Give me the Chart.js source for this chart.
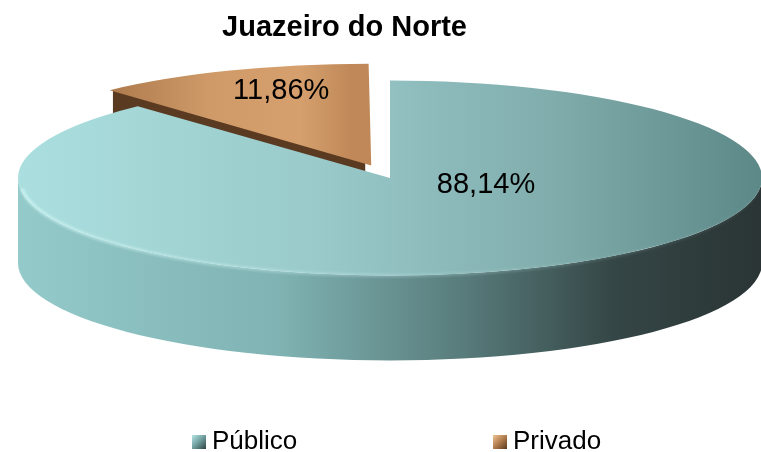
<!DOCTYPE html>
<html lang="pt-BR">
<head>
<meta charset="UTF-8">
<title>Juazeiro do Norte</title>
<script src="https://cdn.jsdelivr.net/npm/chart.js@4"></script>
<style>
  html, body { margin: 0; padding: 0; background: #fff; }
</style>
</head>
<body>
<canvas id="pieChart" width="761" height="452"></canvas>
<script>
var categorias = ['Público', 'Privado'];
var percentuais = [88.14, 11.86];
var rotulos = ['88,14%', '11,86%'];

// 3D look: where the tilted pie sits, how flat it is and how thick
var CX = 390, CY = 178, TILT = 0.262, DEPTH = 85, RAIO = 372;
var FONTE = '"Liberation Sans", Arial, sans-serif';

function grad(ctx, x0, y0, x1, y1, stops) {
  var g = ctx.createLinearGradient(x0, y0, x1, y1);
  stops.forEach(function (s) { g.addColorStop(s[0], s[1]); });
  return g;
}

// geometry of one arc element, after its offset is applied
function arcGeom(arc) {
  var p = arc.getProps(['x', 'y', 'startAngle', 'endAngle', 'outerRadius', 'circumference']);
  var off = (arc.options.offset || 0) / 4;
  var fix = 1 - Math.sin(Math.min(Math.PI, p.circumference || 0));
  var h = (p.startAngle + p.endAngle) / 2;
  var d = off + off * fix;
  var cx = p.x + Math.cos(h) * d, cy = p.y + Math.sin(h) * d;
  return {
    sx: CX + cx - p.x, sy: CY + (cy - p.y) * TILT,
    r: p.outerRadius, a0: p.startAngle, a1: p.endAngle, ox: p.x, oy: p.y
  };
}

var wallColors = [
  [[0, '#94caca'], [0.35, '#80b3b3'], [0.6, '#587b7b'], [0.8, '#354646'], [1, '#2a3434']],
  [[0, '#6e4827'], [1, '#4a301c']]
];
var cutColors = ['#4f6d6d', '#5a3a20'];

var pie3d = {
  id: 'pie3d',
  beforeDatasetsDraw: function (chart) {
    var ctx = chart.ctx;
    var arcs = chart.getDatasetMeta(0).data;
    // cut faces first: they sit behind the rims
    arcs.forEach(function (arc, i) {
      var g = arcGeom(arc);
      [[g.a0, Math.cos(g.a0) < -0.01], [g.a1, Math.cos(g.a1) > 0.01]].forEach(function (f) {
        if (!f[1]) return;
        var rx = g.sx + Math.cos(f[0]) * g.r, ry = g.sy + Math.sin(f[0]) * g.r * TILT;
        ctx.save();
        ctx.beginPath();
        ctx.moveTo(g.sx, g.sy);
        ctx.lineTo(rx, ry);
        ctx.lineTo(rx, ry + DEPTH);
        ctx.lineTo(g.sx, g.sy + DEPTH);
        ctx.closePath();
        ctx.fillStyle = cutColors[i];
        ctx.fill();
        ctx.restore();
      });
    });
    // outer rim of the front half
    arcs.forEach(function (arc, i) {
      var g = arcGeom(arc);
      for (var k = -1; k <= 1; k++) {
        var a = Math.max(g.a0, k * 2 * Math.PI), b = Math.min(g.a1, k * 2 * Math.PI + Math.PI);
        if (b <= a) continue;
        ctx.save();
        ctx.beginPath();
        ctx.ellipse(g.sx, g.sy, g.r, g.r * TILT, 0, a, b, false);
        ctx.ellipse(g.sx, g.sy + DEPTH, g.r, g.r * TILT, 0, b, a, true);
        ctx.closePath();
        ctx.fillStyle = grad(ctx, g.sx - g.r, 0, g.sx + g.r, 0, wallColors[i]);
        ctx.fill();
        ctx.restore();
      }
    });
    // tops are drawn by Chart.js through a flattening transform
    var o = arcs[0];
    ctx.save();
    ctx.translate(CX, CY);
    ctx.scale(1, TILT);
    ctx.translate(-o.x, -o.y);
  },
  afterDatasetsDraw: function (chart) {
    var ctx = chart.ctx;
    ctx.restore();
    var arcs = chart.getDatasetMeta(0).data;
    // soft light on the front edge of the big slice
    var g = arcGeom(arcs[0]);
    ctx.save();
    ctx.beginPath();
    ctx.ellipse(g.sx, g.sy + 1.5, g.r - 2, g.r * TILT - 1.5, 0, Math.PI * 0.03, Math.PI * 0.97, false);
    ctx.strokeStyle = grad(ctx, g.sx - g.r, 0, g.sx + g.r, 0,
      [[0, 'rgba(215,250,250,0.55)'], [0.5, 'rgba(190,228,228,0.3)'], [1, 'rgba(120,160,160,0.1)']]);
    ctx.lineWidth = 4;
    ctx.filter = 'blur(1px)';
    ctx.stroke();
    ctx.restore();
    // value labels
    var deslocs = [[96, 7], [-84, -70]];
    ctx.save();
    ctx.font = '29px ' + FONTE;
    ctx.fillStyle = '#000';
    ctx.textAlign = 'center';
    ctx.textBaseline = 'middle';
    arcs.forEach(function (arc, i) {
      var a = arcGeom(arc);
      ctx.fillText(rotulos[i], a.sx + deslocs[i][0], a.sy + deslocs[i][1]);
    });
    ctx.restore();
  },
  afterDraw: function (chart) {
    // legend, spread out like the original
    var ctx = chart.ctx;
    var xs = [192, 493], top = 435, box = 14;
    var boxColors = [
      [[0, '#b6e6e6'], [0.5, '#6f9c9c'], [1, '#2f4242']],
      [[0, '#f0c496'], [0.5, '#b07c4c'], [1, '#5a3a20']]
    ];
    ctx.save();
    ctx.font = '26px ' + FONTE;
    ctx.textBaseline = 'alphabetic';
    categorias.forEach(function (c, i) {
      ctx.fillStyle = grad(ctx, xs[i], top, xs[i] + box, top + box, boxColors[i]);
      ctx.fillRect(xs[i], top, box, box);
      ctx.fillStyle = '#000';
      ctx.fillText(c, xs[i] + box + 6, 449);
    });
    ctx.restore();
  }
};

// horizontal shading for each top face, in the chart's own coordinates
function topColor(context) {
  var chart = context.chart, area = chart.chartArea;
  if (!area) return '#9ccccc';
  var ox = (area.left + area.right) / 2;
  var dx = CX - ox;
  var ctx = chart.ctx;
  if (context.dataIndex === 0) {
    return grad(ctx, CX - RAIO - dx, 0, CX + RAIO - dx, 0,
      [[0, '#abdfdf'], [0.4, '#9acaca'], [0.72, '#80acac'], [1, '#5d8888']]);
  }
  return grad(ctx, 110 - dx, 0, 370 - dx, 0,
    [[0, '#a87448'], [0.45, '#cf9a68'], [0.8, '#d6a06e'], [1, '#c08858']]);
}

new Chart(document.getElementById('pieChart'), {
  type: 'pie',
  data: {
    labels: categorias,
    datasets: [{
      data: percentuais,
      backgroundColor: topColor,
      borderWidth: 0,
      offset: [0, 206],
      clip: false
    }]
  },
  options: {
    responsive: false,
    animation: false,
    events: [],
    radius: RAIO,
    layout: { padding: { right: 72 } },
    plugins: {
      legend: { display: false },
      tooltip: { enabled: false },
      title: {
        display: true,
        text: 'Juazeiro do Norte',
        color: '#000',
        font: { family: FONTE, size: 29, weight: 'bold' },
        padding: { top: 11, bottom: 10 }
      }
    }
  },
  plugins: [pie3d]
});
</script>
</body>
</html>
